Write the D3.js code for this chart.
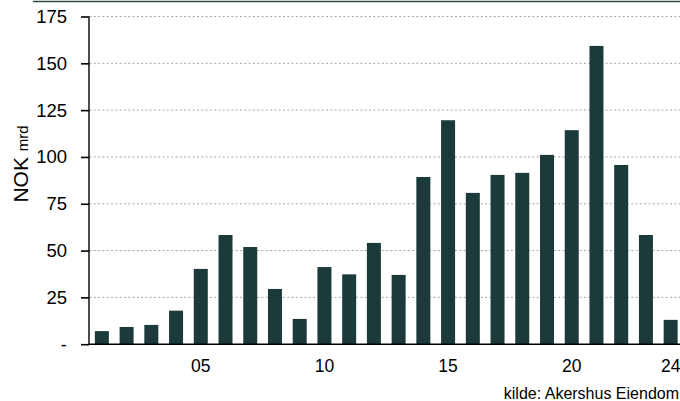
<!DOCTYPE html>
<html>
<head>
<meta charset="utf-8">
<script src="https://cdn.jsdelivr.net/npm/d3@7"></script>
<style>
  body { margin: 0; background: #fff; }
  svg { display: block; font-family: "Liberation Sans", Arial, sans-serif; }
</style>
</head>
<body>
<div id="chart"></div>
<script>
// years (2001-2024) and transaction volume, NOK mrd
const years = ["01","02","03","04","05","06","07","08","09","10","11","12",
               "13","14","15","16","17","18","19","20","21","22","23","24"];
const volume = [7.0, 9.2, 10.3, 17.9, 40.2, 58.3, 51.9, 29.5, 13.5, 41.2, 37.3, 54.1,
                37.0, 89.3, 119.6, 80.8, 90.4, 91.5, 101.1, 114.3, 159.3, 95.7, 58.3, 13.0];
const yTicks = [0, 25, 50, 75, 100, 125, 150, 175];
const xLabels = ["05", "10", "15", "20", "24"];

const width = 680, height = 401;
const left = 89.5, baseY = 344.2, topY = 16.5;

const svg = d3.select("#chart")
  .append("svg")
    .attr("width", width)
    .attr("height", height);

// thin rule left at the top of the page (title cut off)
svg.append("line")
  .attr("x1", 33).attr("x2", width)
  .attr("y1", 1.5).attr("y2", 1.5)
  .attr("stroke", "#2b4747")
  .attr("stroke-width", 1.6);

const x = d3.scaleBand()
  .domain(years)
  .range([left, left + 24 * 24.73])
  .paddingInner(0.434)
  .paddingOuter(0.217);

const y = d3.scaleLinear()
  .domain([0, 175])
  .range([baseY, topY]);

// dotted gridlines
svg.append("g")
  .selectAll("line")
  .data(yTicks.filter(d => d > 0))
  .join("line")
    .attr("x1", left).attr("x2", width)
    .attr("y1", d => y(d)).attr("y2", d => y(d))
    .attr("stroke", "#a6a6a6")
    .attr("stroke-width", 1)
    .attr("stroke-dasharray", "2,2.3");

// bars
svg.append("g")
  .selectAll("rect")
  .data(volume)
  .join("rect")
    .attr("x", (d, i) => x(years[i]))
    .attr("y", d => y(d))
    .attr("width", x.bandwidth())
    .attr("height", d => baseY - y(d))
    .attr("fill", "#1c3a3a");

// y axis
const yAxis = svg.append("g")
  .attr("transform", `translate(${left - 0.5},0)`)
  .call(d3.axisLeft(y)
    .tickValues(yTicks)
    .tickSize(8)
    .tickPadding(14)
    .tickFormat(d => d === 0 ? "-" : d));
yAxis.select(".domain").attr("stroke", "#000").attr("stroke-width", 1.4)
  .attr("d", `M0,${topY}V${baseY}`);
yAxis.selectAll(".tick line").attr("stroke", "#000").attr("stroke-width", 1.6);
yAxis.selectAll("text")
  .style("font-size", "18.5px")
  .attr("fill", "#000");

// baseline
svg.append("line")
  .attr("x1", left - 0.5).attr("x2", width)
  .attr("y1", baseY).attr("y2", baseY)
  .attr("stroke", "#000")
  .attr("stroke-width", 1.5);

// x axis labels
const xAxis = svg.append("g")
  .attr("transform", `translate(0,${baseY})`)
  .call(d3.axisBottom(x)
    .tickValues(xLabels)
    .tickSize(0)
    .tickPadding(15));
xAxis.select(".domain").remove();
xAxis.selectAll("text")
  .style("font-size", "17.5px")
  .attr("fill", "#000");

// y axis title
const yTitle = svg.append("text")
  .attr("transform", "translate(28,164) rotate(-90)")
  .attr("text-anchor", "middle")
  .attr("fill", "#000");
yTitle.append("tspan").style("font-size", "21px").text("NOK ");
yTitle.append("tspan").style("font-size", "15px").text("mrd");

// source, kept just inside the right edge
svg.append("text")
  .attr("x", 679)
  .attr("y", 398.5)
  .attr("text-anchor", "end")
  .style("font-size", "16px")
  .attr("fill", "#000")
  .text("kilde: Akershus Eiendom");
</script>
</body>
</html>
